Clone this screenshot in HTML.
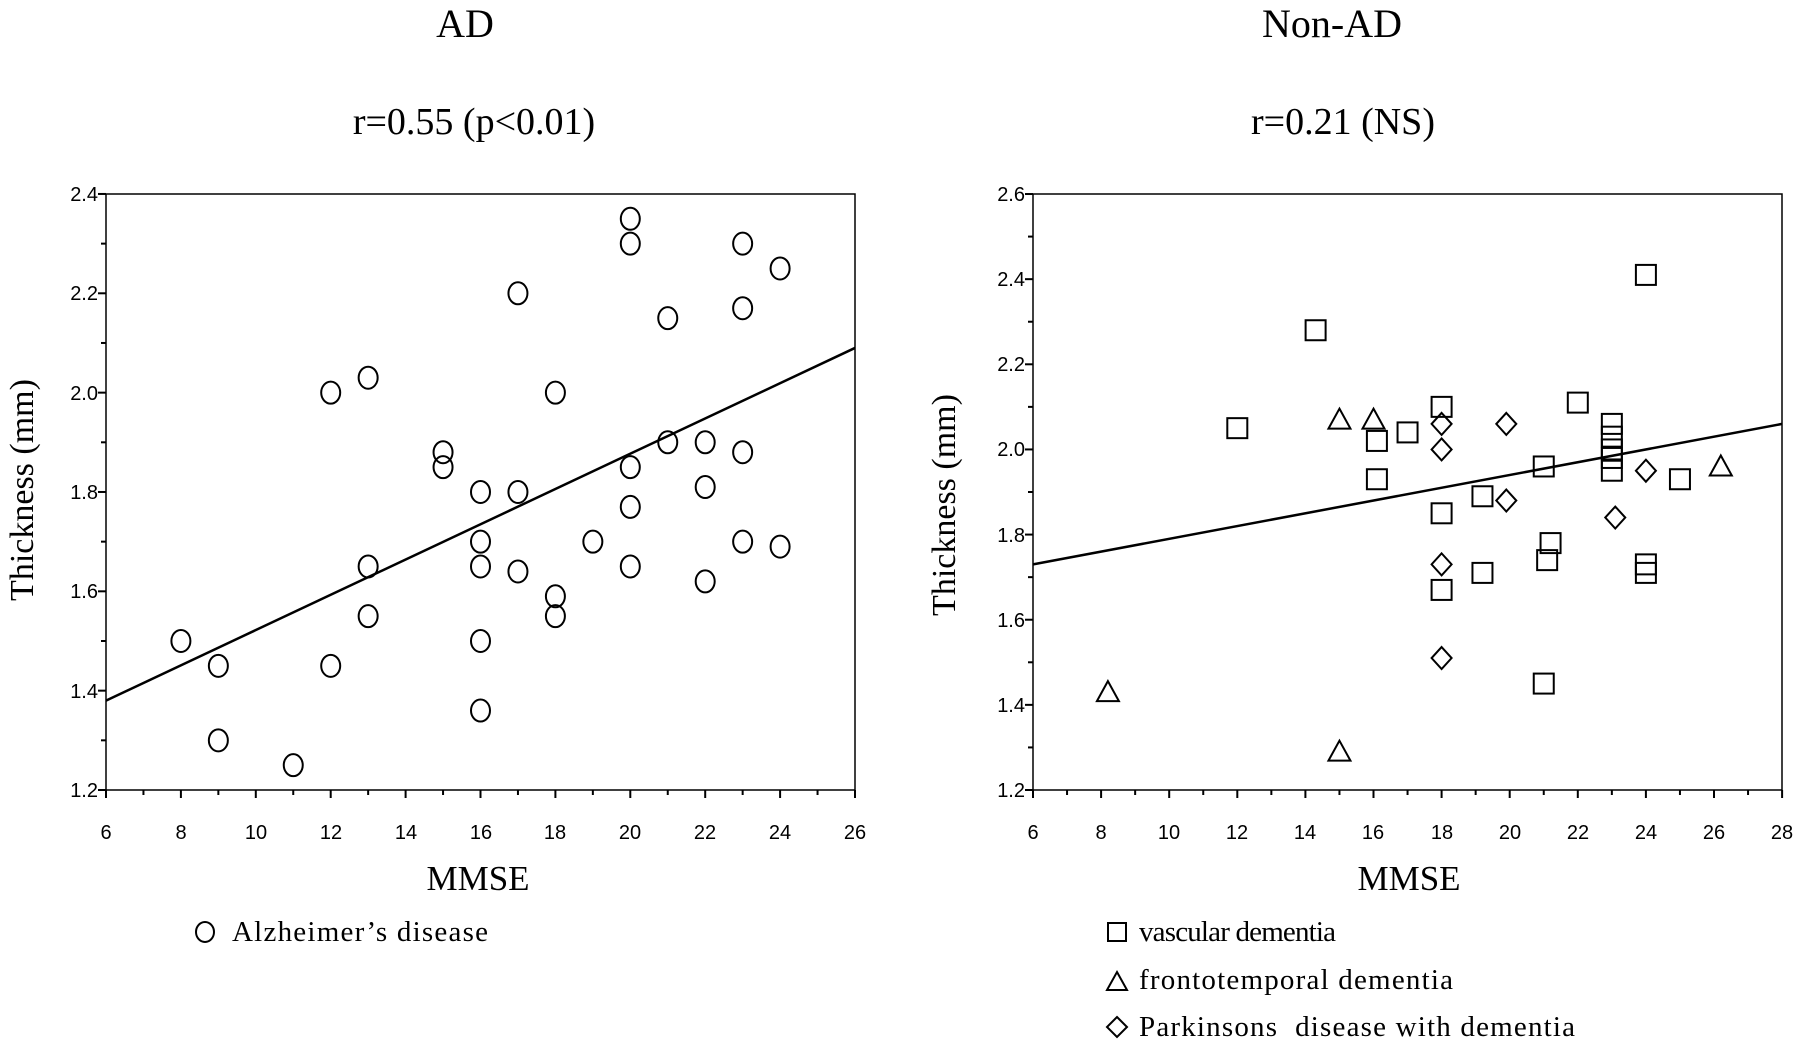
<!DOCTYPE html>
<html><head><meta charset="utf-8"><style>
html,body{margin:0;padding:0;background:#fff;}
svg{display:block;}
.t{font-family:"Liberation Serif",serif;fill:#000;}
.k{font-family:"Liberation Sans",sans-serif;font-size:20px;fill:#000;}
</style></head><body>
<svg id="s" width="1800" height="1044" viewBox="0 0 1800 1044" xmlns="http://www.w3.org/2000/svg">
<g class="t" text-anchor="middle">
<text x="465" y="37" font-size="40">AD</text>
<text x="474" y="134" font-size="38">r=0.55 (p&lt;0.01)</text>
<text x="1332" y="37" font-size="40">Non-AD</text>
<text x="1343" y="134" font-size="38">r=0.21 (NS)</text>
<text x="478" y="890" font-size="35">MMSE</text>
<text x="1409" y="890" font-size="35">MMSE</text>
<text transform="translate(33,490) rotate(-90)" font-size="34">Thickness (mm)</text>
<text transform="translate(955,505) rotate(-90)" font-size="34">Thickness (mm)</text>
</g>
<g class="t" font-size="29">
<text x="232" y="941" textLength="256" lengthAdjust="spacing">Alzheimer’s disease</text>
<text x="1139" y="941" textLength="197" lengthAdjust="spacing">vascular dementia</text>
<text x="1139" y="989" textLength="314" lengthAdjust="spacing">frontotemporal dementia</text>
<text x="1139" y="1036" textLength="436" lengthAdjust="spacing">Parkinsons&#160;&#160;disease with dementia</text>
</g>
<g fill="none" stroke="#000" stroke-width="2">
<ellipse cx="205" cy="932" rx="9" ry="10"/>
<rect x="1108" y="923" width="18" height="18"/>
<path d="M1117 972 L1127 990 L1107 990 Z"/>
<path d="M1117 1017 L1127 1027 L1117 1037 L1107 1027 Z"/>
</g>
<g class="k" text-anchor="middle">
<text x="106" y="839">6</text><text x="181" y="839">8</text><text x="256" y="839">10</text><text x="331" y="839">12</text><text x="406" y="839">14</text><text x="481" y="839">16</text><text x="555" y="839">18</text><text x="630" y="839">20</text><text x="705" y="839">22</text><text x="780" y="839">24</text><text x="855" y="839">26</text>
<text x="1033" y="839">6</text><text x="1101" y="839">8</text><text x="1169" y="839">10</text><text x="1237" y="839">12</text><text x="1305" y="839">14</text><text x="1373" y="839">16</text><text x="1442" y="839">18</text><text x="1510" y="839">20</text><text x="1578" y="839">22</text><text x="1646" y="839">24</text><text x="1714" y="839">26</text><text x="1782" y="839">28</text>
</g>
<g class="k" text-anchor="end">
<text x="98" y="797">1.2</text><text x="98" y="698">1.4</text><text x="98" y="598">1.6</text><text x="98" y="499">1.8</text><text x="98" y="400">2.0</text><text x="98" y="300">2.2</text><text x="98" y="201">2.4</text>
<text x="1025" y="797">1.2</text><text x="1025" y="712">1.4</text><text x="1025" y="627">1.6</text><text x="1025" y="542">1.8</text><text x="1025" y="456">2.0</text><text x="1025" y="371">2.2</text><text x="1025" y="286">2.4</text><text x="1025" y="201">2.6</text>
</g>
<g id="g" fill="none" stroke="#000" stroke-width="2"></g>
</svg>
<script>
var g=document.getElementById('g'),h='';
function L(x1,y1,x2,y2,w){h+='<line x1="'+x1+'" y1="'+y1+'" x2="'+x2+'" y2="'+y2+'"'+(w?' stroke-width="'+w+'"':'')+'/>';}
function XL(m){return 106+(m-6)*37.45;} function YL(t){return 790-(t-1.2)*496.7;}
function XR(m){return 1033+(m-6)*34.05;} function YR(t){return 790-(t-1.2)*425.7;}
h+='<rect x="106" y="194" width="749" height="596" stroke-width="1.5"/>';
h+='<rect x="1033" y="194" width="749" height="596" stroke-width="1.5"/>';
for(var m=6;m<=26;m++)L(XL(m),790,XL(m),790+(m%2?5:8));
for(var i=0;i<=12;i++){var y=YL(1.2+i*0.1);L(106,y,106-(i%2?5:8),y);}
for(var m=6;m<=28;m++)L(XR(m),790,XR(m),790+(m%2?5:8));
for(var i=0;i<=14;i++){var y=YR(1.2+i*0.1);L(1033,y,1033-(i%2?5:8),y);}
L(XL(6),YL(1.38),XL(26),YL(2.09),2.5);
L(XR(6),YR(1.73),XR(28),YR(2.06),2.5);
var A=[[8,1.5],[9,1.45],[9,1.3],[11,1.25],[12,2],[12,1.45],[13,2.03],[13,1.65],[13,1.55],[15,1.88],[15,1.85],[16,1.8],[16,1.7],[16,1.65],[16,1.5],[16,1.36],[17,2.2],[17,1.8],[17,1.64],[18,2],[18,1.59],[18,1.55],[19,1.7],[20,2.35],[20,2.3],[20,1.85],[20,1.77],[20,1.65],[21,2.15],[21,1.9],[22,1.9],[22,1.81],[22,1.62],[23,2.3],[23,2.17],[23,1.88],[23,1.7],[24,2.25],[24,1.69]];
A.forEach(function(p){h+='<ellipse cx="'+XL(p[0])+'" cy="'+YL(p[1])+'" rx="9.5" ry="11"/>';});
var S=[[12,2.05],[14.3,2.28],[16.1,2.02],[16.1,1.93],[17,2.04],[18,2.1],[18,1.85],[18,1.67],[19.2,1.89],[19.2,1.71],[21,1.96],[21.2,1.78],[21.1,1.74],[21,1.45],[22,2.11],[23,2.06],[23,2.03],[23,2],[23,1.98],[23,1.95],[24,2.41],[24,1.73],[24,1.71],[25,1.93]];
S.forEach(function(p){h+='<rect x="'+(XR(p[0])-10)+'" y="'+(YR(p[1])-10)+'" width="20" height="20"/>';});
var T=[[8.2,1.43],[15,2.07],[16,2.07],[15,1.29],[26.2,1.96]];
T.forEach(function(p){var x=XR(p[0]),y=YR(p[1]);h+='<path d="M'+x+' '+(y-11)+' L'+(x+11)+' '+(y+9)+' L'+(x-11)+' '+(y+9)+' Z"/>';});
var D=[[18,2.06],[18,2],[18,1.73],[18,1.51],[19.9,2.06],[19.9,1.88],[23.1,1.84],[24,1.95]];
D.forEach(function(p){var x=XR(p[0]),y=YR(p[1]);h+='<path d="M'+x+' '+(y-11)+' L'+(x+10)+' '+y+' L'+x+' '+(y+11)+' L'+(x-10)+' '+y+' Z"/>';});
g.innerHTML=h;
</script>
</body></html>
